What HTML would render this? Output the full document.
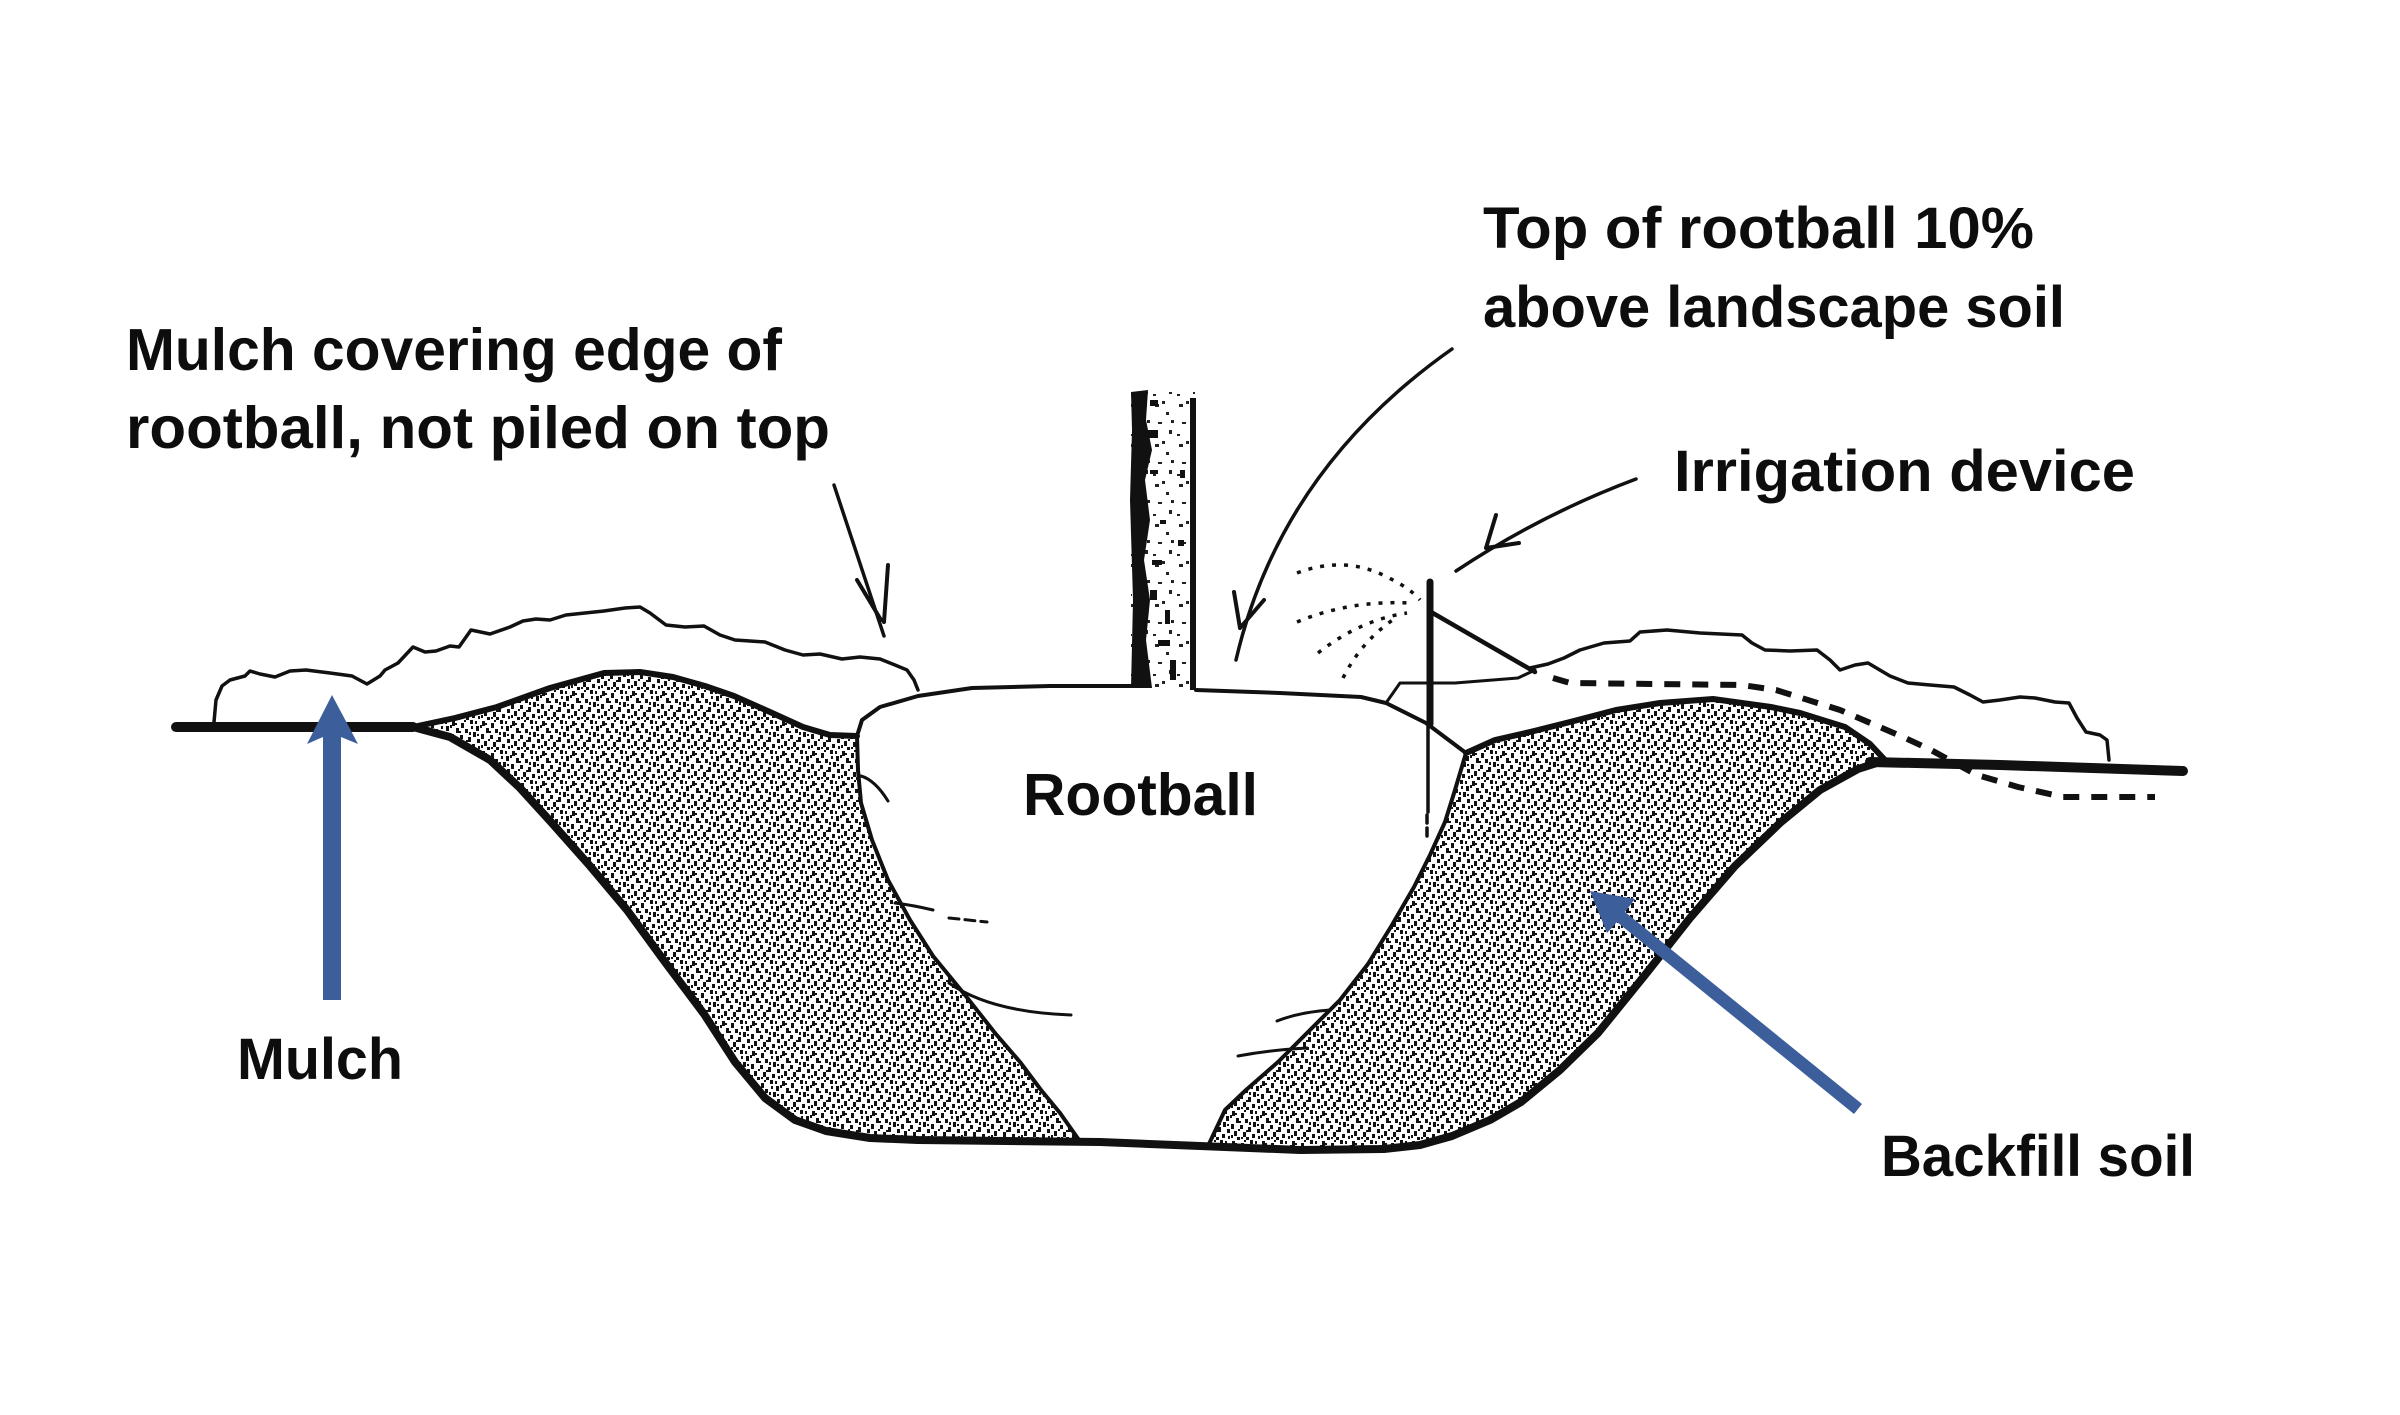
<!DOCTYPE html>
<html>
<head>
<meta charset="utf-8">
<style>
  html,body{margin:0;padding:0;background:#fff;}
  svg{display:block;}
  text{font-family:"Liberation Sans",Arial,sans-serif;font-weight:bold;fill:#0d0d0d;}
</style>
</head>
<body>
<svg width="2400" height="1415" viewBox="0 0 2400 1415" xmlns="http://www.w3.org/2000/svg">
  <defs>
    <pattern id="stip" width="30" height="30" patternUnits="userSpaceOnUse">
      <rect width="30" height="30" fill="#fff"/>
      <g fill="#111">
        <rect x="2" y="1" width="3" height="5"/>
        <rect x="11" y="3" width="3" height="5"/>
        <rect x="20" y="0" width="3" height="4"/>
        <rect x="26" y="6" width="3" height="5"/>
        <rect x="6" y="8" width="3" height="5"/>
        <rect x="15" y="9" width="3" height="4"/>
        <rect x="23" y="12" width="3" height="5"/>
        <rect x="1" y="14" width="3" height="5"/>
        <rect x="10" y="15" width="3" height="4"/>
        <rect x="18" y="17" width="3" height="5"/>
        <rect x="27" y="19" width="3" height="4"/>
        <rect x="4" y="21" width="3" height="5"/>
        <rect x="13" y="22" width="3" height="5"/>
        <rect x="22" y="24" width="3" height="4"/>
        <rect x="7" y="27" width="3" height="3"/>
        <rect x="16" y="27" width="3" height="3"/>
        <rect x="25" y="1" width="2" height="3"/>
        <rect x="0" y="5" width="2" height="3"/>
        <rect x="14" y="0" width="2" height="2"/>
        <rect x="8" y="19" width="2" height="2"/>
        <rect x="19" y="12" width="2" height="3"/>
        <rect x="28" y="26" width="2" height="3"/>
        <rect x="5" y="3" width="2" height="2"/>
        <rect x="21" y="6" width="2" height="3"/>
        <rect x="9" y="11" width="2" height="2"/>
        <rect x="27" y="14" width="2" height="2"/>
        <rect x="16" y="20" width="2" height="2"/>
        <rect x="1" y="25" width="2" height="3"/>
        <rect x="11" y="27" width="2" height="2"/>
      </g>
    </pattern>
    <pattern id="stip2" width="24" height="40" patternUnits="userSpaceOnUse">
      <rect width="24" height="40" fill="#fff"/>
      <g fill="#222">
        <rect x="3" y="4" width="4" height="3"/>
        <rect x="14" y="12" width="3" height="3"/>
        <rect x="6" y="22" width="4" height="2"/>
        <rect x="17" y="30" width="3" height="4"/>
        <rect x="1" y="34" width="3" height="2"/>
        <rect x="10" y="1" width="3" height="3"/>
        <rect x="19" y="20" width="3" height="3"/>
      </g>
    </pattern>
  </defs>

  <!-- Left backfill -->
  <path fill="url(#stip)" stroke="none"
    d="M413,727 L455,718 L497,707 L550,688 L604,673 L640,672 L673,677 L705,686 L734,696 L770,712 L803,727 L830,735 L857,736
       L858,770 L861,803 L872,840 L888,880 L910,920 L933,956 L965,995 L995,1033 L1020,1062 L1041,1090 L1060,1113 L1079,1140
       L918,1140 L870,1138 L826,1131 L795,1120 L765,1098 L735,1062 L704,1014 L665,962 L627,910 L590,866 L551,822 L520,788 L490,760 L450,737 Z"/>
  <!-- Right backfill -->
  <path fill="url(#stip)" stroke="none"
    d="M1466,753 L1495,740 L1530,732 L1570,722 L1616,710 L1660,703 L1713,699 L1771,707 L1800,713 L1845,727 L1870,744 L1885,760
       L1858,769 L1820,790 L1781,822 L1735,866 L1690,918 L1645,975 L1598,1033 L1560,1070 L1521,1102 L1490,1120 L1452,1136 L1420,1145 L1384,1149 L1208,1146
       L1225,1110 L1246,1090 L1278,1062 L1307,1033 L1340,1000 L1368,964 L1392,925 L1414,887 L1430,855 L1445,822 L1455,790 Z"/>

  <g fill="none" stroke="#111" stroke-linejoin="round" stroke-linecap="round">
    <!-- mound tops -->
    <polyline stroke-width="6" points="413,727 455,718 497,707 550,688 604,673 640,672 673,677 705,686 734,696 770,712 803,727 830,735 857,736"/>
    <polyline stroke-width="6" points="1466,753 1495,740 1530,732 1570,722 1616,710 1660,703 1713,699 1771,707 1800,713 1845,727 1870,744 1885,760"/>
    <!-- rootball inner boundaries -->
    <polyline stroke-width="4" points="857,736 858,770 861,803 872,840 888,880 910,920 933,956 965,995 995,1033 1020,1062 1041,1090 1060,1113 1079,1140"/>
    <polyline stroke-width="4" points="1466,753 1455,790 1445,822 1430,855 1414,887 1392,925 1368,964 1340,1000 1307,1033 1278,1062 1246,1090 1225,1110 1208,1146"/>
    <!-- rootball top -->
    <polyline stroke-width="4" points="857,736 862,720 880,707 918,696 972,688 1050,686 1131,686"/>
    <polyline stroke-width="4" points="1196,690 1280,693 1361,697 1386,703 1426,723 1466,753"/>
    <!-- ground & hole outline -->
    <polyline stroke-width="10" points="176,727 413,727"/>
    <polyline stroke-width="8" points="413,727 450,737 490,760 520,788 551,822 590,866 627,910 665,962 704,1014 735,1062 765,1098 795,1120 826,1131 870,1138 918,1140 1100,1142 1200,1146 1300,1150 1384,1149 1420,1145 1452,1136 1490,1120 1521,1102 1560,1070 1598,1033 1645,975 1690,918 1735,866 1781,822 1820,790 1858,769 1880,762"/>
    <polyline stroke-width="10" points="1870,762 2000,765 2183,771"/>

    <!-- root lines -->
    <path stroke-width="3" d="M861,776 Q875,780 888,801"/>
    <path stroke-width="3" d="M895,903 Q912,905 933,910"/>
    <path stroke-width="3" stroke-dasharray="10 6" d="M949,918 L987,922"/>
    <path stroke-width="3" d="M949,983 Q990,1012 1071,1015"/>
    <path stroke-width="3" d="M1330,1010 Q1300,1012 1277,1021"/>
    <path stroke-width="3" d="M1307,1048 Q1270,1050 1238,1056"/>

    <!-- left mulch -->
    <polyline stroke-width="3.5" points="214,722 216,700 222,686 230,680 245,676 250,671 260,674 275,677 290,671 306,670 330,673 352,676 367,684 380,676 385,670 398,663 413,647 425,652 436,651 450,646 459,647 471,630 490,634 510,627 523,621 536,619 550,620 566,615 585,613 604,611 625,608 640,607 650,613 666,625 685,627 704,626 720,635 735,640 750,641 765,642 785,650 803,655 820,654 842,659 860,657 880,659 895,665 907,670 914,680 918,690"/>

    <!-- right mulch -->
    <polyline stroke-width="3" points="1386,703 1400,683 1455,683 1518,678 1535,670"/>
    <polyline stroke-width="3.5" points="1530,668 1548,664 1564,658 1580,650 1604,643 1630,641 1640,632 1667,630 1700,633 1742,635 1752,643 1765,650 1790,651 1817,650 1830,660 1840,670 1855,665 1868,663 1890,676 1908,683 1930,685 1954,687 1970,695 1983,702 2000,700 2020,697 2035,698 2055,702 2069,703 2077,718 2086,732 2100,735 2107,740 2109,760"/>

    <!-- irrigation device -->
    <line x1="1430" y1="582" x2="1430" y2="724" stroke-width="7"/>
    <line x1="1428" y1="724" x2="1428" y2="812" stroke-width="3.5"/>
    <line x1="1427" y1="815" x2="1427" y2="840" stroke-width="3.5" stroke-dasharray="8 5"/>
    <line x1="1431" y1="612" x2="1535" y2="672" stroke-width="4.5"/>
    <polyline stroke-width="6" stroke-dasharray="16 12" stroke-linecap="butt" points="1553,678 1570,683 1742,685 1776,690 1840,710 1903,737 1931,750 1977,775 2018,787 2063,797 2155,797"/>

    <!-- spray -->
    <g stroke-width="3.5" stroke-dasharray="4 8" stroke-linecap="butt">
      <path d="M1297,573 Q1345,555 1387,577 Q1410,588 1420,600"/>
      <path d="M1297,622 Q1350,600 1410,603"/>
      <path d="M1318,653 Q1360,620 1407,613"/>
      <path d="M1343,678 Q1362,640 1397,617"/>
    </g>

    <!-- black label arrows -->
    <path stroke-width="3.5" d="M834,485 L884,636"/>
    <path stroke-width="4" d="M857,580 L881,620 M888,565 L884,622"/>
    <path stroke-width="3.5" d="M1452,349 Q1280,470 1236,660"/>
    <path stroke-width="4" d="M1234,592 L1240,628 M1264,600 L1240,628"/>
    <path stroke-width="3.5" d="M1636,479 Q1540,515 1456,571"/>
    <path stroke-width="4" d="M1496,515 L1486,548 M1519,543 L1486,548"/>
  </g>

  <!-- trunk -->
  <rect x="1131" y="392" width="64" height="296" fill="url(#stip2)"/>
  <polygon fill="#111" points="1131,392 1148,390 1146,420 1152,450 1145,480 1150,520 1144,560 1150,600 1146,640 1152,688 1131,688 1133,600 1130,500 1132,430"/>
  <rect x="1190" y="398" width="6" height="292" fill="#111"/>
  <g fill="#111">
    <rect x="1150" y="400" width="8" height="6"/>
    <rect x="1148" y="430" width="10" height="8"/>
    <rect x="1150" y="470" width="8" height="4"/>
    <rect x="1160" y="520" width="6" height="4"/>
    <rect x="1152" y="560" width="10" height="5"/>
    <rect x="1165" y="610" width="5" height="14"/>
    <rect x="1158" y="640" width="12" height="6"/>
    <rect x="1170" y="660" width="6" height="20"/>
    <rect x="1180" y="470" width="5" height="8"/>
    <rect x="1178" y="540" width="6" height="6"/>
    <rect x="1150" y="590" width="7" height="10"/>
  </g>

  <!-- blue arrows -->
  <polygon fill="#3c5e9b" points="332,695 358,744 341,737 341,1000 323,1000 323,737 307,744"/>
  <polygon fill="#3c5e9b" points="1590,891 1635,899 1625,912 1862,1104 1854,1114 1617,922 1607,933"/>

  <!-- labels -->
  <text x="126" y="370" font-size="59" textLength="656" lengthAdjust="spacingAndGlyphs">Mulch covering edge of</text>
  <text x="126" y="448" font-size="59" textLength="704" lengthAdjust="spacingAndGlyphs">rootball, not piled on top</text>
  <text x="1483" y="248" font-size="58" textLength="551" lengthAdjust="spacingAndGlyphs">Top of rootball 10%</text>
  <text x="1483" y="327" font-size="58" textLength="582" lengthAdjust="spacingAndGlyphs">above landscape soil</text>
  <text x="1674" y="491" font-size="58" textLength="461" lengthAdjust="spacingAndGlyphs">Irrigation device</text>
  <text x="1023" y="815" font-size="59" textLength="235" lengthAdjust="spacingAndGlyphs">Rootball</text>
  <text x="237" y="1079" font-size="58" textLength="166" lengthAdjust="spacingAndGlyphs">Mulch</text>
  <text x="1881" y="1176" font-size="58" textLength="314" lengthAdjust="spacingAndGlyphs">Backfill soil</text>
</svg>
</body>
</html>
